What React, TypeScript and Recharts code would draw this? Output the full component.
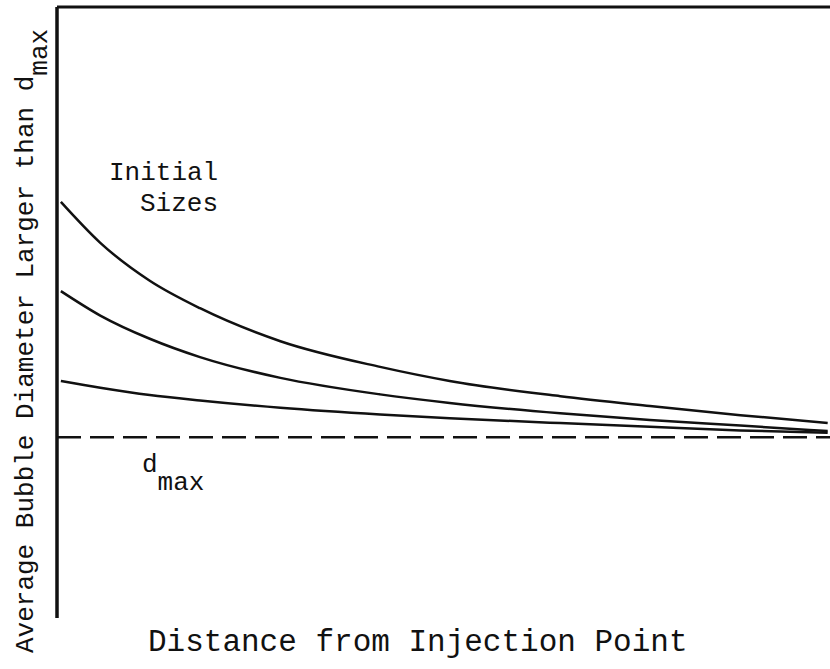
import React from "react";
import { LineChart, Line, XAxis, YAxis, ReferenceLine, Customized } from "recharts";

const distance = [0.5, 5.6, 12.0, 18.5, 28.9, 41.8, 50.8, 65.1, 76.7, 88.4, 99.7];
const sizeLarge = [68.1, 61.4, 55.2, 50.7, 45.3, 41.1, 38.8, 36.3, 34.7, 33.2, 31.9];
const sizeMedium = [53.5, 49.5, 45.7, 42.7, 39.3, 36.6, 35.2, 33.5, 32.4, 31.5, 30.6];
const sizeSmall = [38.8, 37.7, 36.5, 35.6, 34.4, 33.3, 32.7, 31.9, 31.3, 30.7, 30.3];
const dMax = 29.6;

const xLabel = "Distance from Injection Point";
const yLabelMain = "Average Bubble Diameter Larger than d";
const yLabelSub = "max";
const curveLabel = ["Initial", "Sizes"];

const data = distance.map((d, i) => ({
  d,
  large: sizeLarge[i],
  medium: sizeMedium[i],
  small: sizeSmall[i],
}));

const FONT = "'Liberation Mono', 'DejaVu Sans Mono', monospace";
const INK = "#111";

const Texts = () => (
  <g fontFamily={FONT} fill={INK}>
    <text x={148} y={651} fontSize={31}>{xLabel}</text>
    <text x={33} y={653} fontSize={26} transform="rotate(-90, 33, 653)">
      {yLabelMain}
      <tspan dy={14}>{yLabelSub}</tspan>
    </text>
    <text x={109} y={180} fontSize={26}>{curveLabel[0]}</text>
    <text x={140} y={211} fontSize={26}>{curveLabel[1]}</text>
    <text x={142} y={472} fontSize={26}>
      d<tspan dy={18}>max</tspan>
    </text>
  </g>
);

export default function App() {
  return (
    <div style={{ position: "absolute", left: 0, top: 0, width: 830, height: 669, background: "#fff" }}>
      <LineChart width={830} height={669} data={data} margin={{ top: 7, right: 0, left: 0, bottom: 51 }}>
        <XAxis
          dataKey="d"
          type="number"
          domain={[0, 100]}
          height={0}
          tick={false}
          tickLine={false}
          axisLine={{ stroke: INK, strokeWidth: 3.5 }}
        />
        <YAxis
          type="number"
          domain={[0, 100]}
          width={57}
          tick={false}
          tickLine={false}
          axisLine={{ stroke: INK, strokeWidth: 3.5 }}
        />
        <ReferenceLine y={100} stroke={INK} strokeWidth={3} />
        <ReferenceLine y={dMax} stroke={INK} strokeWidth={2.5} strokeDasharray="24 9" />
        <Line dataKey="large" type="monotone" stroke={INK} strokeWidth={2.5} dot={false} isAnimationActive={false} />
        <Line dataKey="medium" type="monotone" stroke={INK} strokeWidth={2.5} dot={false} isAnimationActive={false} />
        <Line dataKey="small" type="monotone" stroke={INK} strokeWidth={2.5} dot={false} isAnimationActive={false} />
        <Customized component={Texts} />
      </LineChart>
    </div>
  );
}
